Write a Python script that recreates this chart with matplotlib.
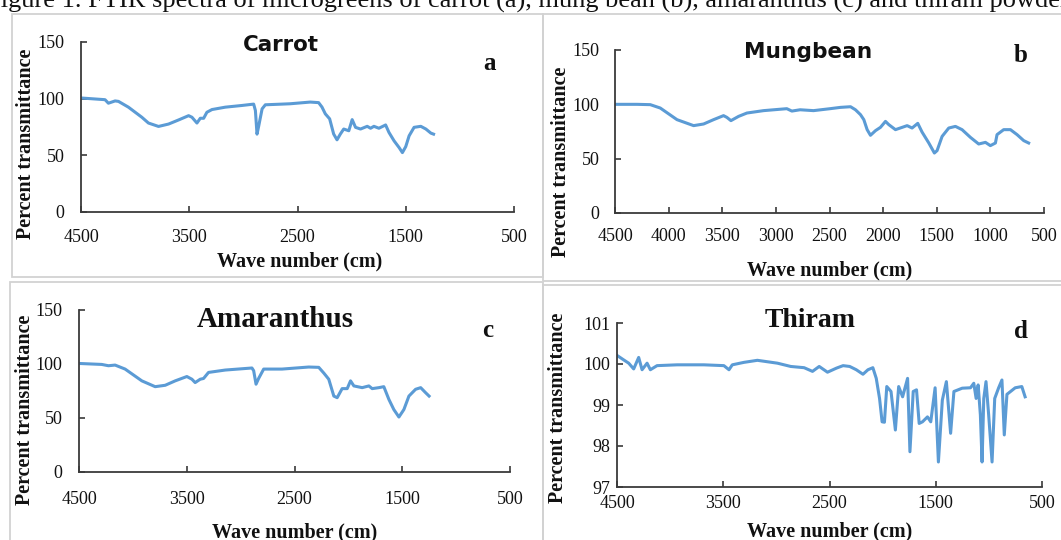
import matplotlib
matplotlib.use('Agg')
import matplotlib.pyplot as plt
import numpy as np
from matplotlib.patches import Rectangle

# ---------------- data ----------------
carrot_wn = [4500, 4278, 4247, 4185, 4154, 4062, 3938, 3877, 3784, 3691, 3599, 3506, 3475, 3429,
             3398, 3367, 3337, 3290, 3167, 3013, 2905, 2889, 2874, 2858, 2827, 2797, 2642, 2568,
             2382, 2305, 2274, 2243, 2203, 2166, 2135, 2104, 2073, 2026, 1995, 1964, 1918, 1856,
             1825, 1794, 1748, 1686, 1655, 1608, 1561, 1531, 1500, 1469, 1423, 1361, 1314, 1268, 1243]
carrot_t = [100.6, 99.1, 96.0, 98.0, 97.6, 92.5, 83.6, 78.5, 75.5, 77.6, 81.2, 85.0, 83.6, 78.5,
            82.7, 82.7, 88.0, 90.4, 92.5, 94.0, 95.2, 89.6, 68.7, 76.0, 91.0, 94.6, 95.2, 95.5,
            97.0, 96.5, 92.6, 86.6, 82.2, 68.8, 63.7, 68.8, 73.2, 71.7, 81.5, 74.7, 73.2, 75.6,
            73.9, 75.6, 73.9, 76.8, 70.2, 62.8, 56.8, 52.4, 57.7, 67.2, 74.7, 75.6, 73.2, 69.6, 68.7]

mung_wn = [4500, 4295, 4171, 4078, 3922, 3767, 3674, 3581, 3488, 3457, 3419, 3348, 3270, 3115,
           2898, 2851, 2774, 2649, 2494, 2398, 2304, 2258, 2211, 2180, 2149, 2118, 2071, 2025,
           1978, 1947, 1885, 1776, 1730, 1677, 1637, 1574, 1522, 1497, 1450, 1388, 1326, 1264,
           1186, 1109, 1046, 1000, 953, 938, 876, 813, 751, 689, 643]
mung_t = [100.0, 100.0, 99.7, 96.6, 85.9, 80.4, 81.9, 85.9, 89.6, 88.0, 85.0, 88.9, 92.0, 94.2,
          96.0, 93.8, 95.0, 94.2, 96.0, 97.2, 97.8, 95.0, 90.5, 85.9, 76.7, 71.5, 75.8, 78.8,
          84.3, 81.3, 76.7, 80.4, 78.2, 82.5, 74.5, 64.4, 55.2, 57.4, 70.5, 78.2, 79.7, 76.7,
          69.6, 63.5, 65.0, 62.0, 64.4, 72.1, 76.7, 76.7, 72.1, 66.6, 64.4]

amar_wn = [4500, 4289, 4227, 4165, 4072, 3917, 3793, 3700, 3607, 3499, 3452, 3422, 3375, 3344,
           3298, 3143, 2895, 2879, 2857, 2833, 2786, 2616, 2368, 2275, 2228, 2182, 2135, 2104,
           2058, 2011, 1980, 1949, 1872, 1810, 1779, 1717, 1671, 1624, 1578, 1531, 1485, 1438,
           1376, 1329, 1283, 1251]
amar_t = [100.5, 99.6, 98.4, 99.0, 95.3, 84.4, 79.0, 80.3, 84.4, 88.4, 85.9, 82.8, 85.9, 86.6,
          92.2, 94.4, 96.3, 93.8, 81.3, 86.6, 95.3, 95.3, 97.2, 96.9, 91.6, 85.9, 70.3, 68.8,
          77.2, 77.2, 84.4, 79.7, 78.1, 79.7, 77.2, 78.1, 79.0, 67.2, 57.8, 50.9, 57.8, 70.3,
          76.6, 78.1, 73.4, 70.3]

thiram_wn = [4500, 4437, 4390, 4343, 4296, 4264, 4217, 4186, 4123, 3934, 3682, 3494, 3446, 3415,
             3305, 3179, 2990, 2865, 2739, 2660, 2597, 2519, 2434, 2372, 2310, 2248, 2185, 2138,
             2092, 2060, 2029, 2005, 1983, 1961, 1921, 1880, 1849, 1812, 1765, 1743, 1712, 1681,
             1656, 1625, 1578, 1547, 1506, 1475, 1438, 1400, 1360, 1329, 1251, 1173, 1142, 1120,
             1101, 1080, 1064, 1048, 1027, 1002, 970, 945, 908, 877, 855, 830, 752, 690, 659]
thiram_t = [100.21, 100.10, 100.02, 99.88, 100.16, 99.86, 100.02, 99.86, 99.96, 99.98, 99.98,
            99.96, 99.86, 99.98, 100.04, 100.09, 100.02, 99.94, 99.91, 99.82, 99.94, 99.80,
            99.90, 99.96, 99.94, 99.86, 99.75, 99.86, 99.91, 99.65, 99.16, 98.59, 98.58, 99.45,
            99.33, 98.39, 99.45, 99.20, 99.65, 97.86, 99.33, 99.37, 98.55, 98.59, 98.71, 98.59,
            99.42, 97.61, 99.12, 99.57, 98.31, 99.33, 99.41, 99.42, 99.53, 99.16, 99.49, 98.76,
            97.61, 99.16, 99.57, 98.76, 97.61, 99.16, 99.42, 99.61, 98.27, 99.26, 99.42, 99.45, 99.20]

titles = ["Carrot", "Mungbean", "Amaranthus", "Thiram"]
letters = ["a", "b", "c", "d"]
xticks_1000 = [4500, 3500, 2500, 1500, 500]
xticks_500 = [4500, 4000, 3500, 3000, 2500, 2000, 1500, 1000, 500]
yticks_pct = [0, 50, 100, 150]
yticks_thiram = [97, 98, 99, 100, 101]
xlabel = "Wave number (cm)"
ylabel = "Percent transmittance"
caption = "Figure 1. FTIR spectra of microgreens of carrot (a), mung bean (b), amaranthus (c) and thiram powder"

# ---------------- layout ----------------
W, H = 1061, 540
fig = plt.figure(figsize=(W / 100, H / 100), dpi=100)
LINE = '#5B9BD5'
SERIF = 'Liberation Serif'
AXC = '#3a3a3a'
TXT = '#111111'


def fx(x):
    return x / W


def fy(y):
    return 1 - y / H


# panel boxes
for (l, t, r, b) in [(12, 14, 543, 277), (543, 14, 1070, 281), (10, 282, 543, 550), (543, 285, 1070, 550)]:
    fig.add_artist(Rectangle((fx(l), fy(b)), (r - l) / W, (b - t) / H, transform=fig.transFigure,
                             facecolor='none', edgecolor='#d2d2d2', lw=1.3))

panels = [
    dict(rect=(81, 42, 514, 212), wn=carrot_wn, t=carrot_t, ylim=(0, 150), yt=yticks_pct, xt=xticks_1000,
         title=(281, 51), tfont=dict(family='DejaVu Sans', size=15.4, weight='bold'),
         letter=(490, 70), xl=(300, 266), yl=(26, 144), xpad=12, ypad=12),
    dict(rect=(615, 50, 1044, 213), wn=mung_wn, t=mung_t, ylim=(0, 150), yt=yticks_pct, xt=xticks_500,
         title=(808, 58), tfont=dict(family='DejaVu Sans', size=15.6, weight='bold'),
         letter=(1021, 62), xl=(830, 275), yl=(561, 162), xpad=11, ypad=11),
    dict(rect=(79, 310, 510, 472), wn=amar_wn, t=amar_t, ylim=(0, 150), yt=yticks_pct, xt=xticks_1000,
         title=(275, 327), tfont=dict(family=SERIF, size=21, weight='bold'),
         letter=(488, 337), xl=(295, 537), yl=(25, 410), xpad=14, ypad=12),
    dict(rect=(617, 323, 1042, 487), wn=thiram_wn, t=thiram_t, ylim=(97, 101), yt=yticks_thiram, xt=xticks_1000,
         title=(810, 327), tfont=dict(family=SERIF, size=20, weight='bold'),
         letter=(1021, 338), xl=(830, 536), yl=(558, 408), xpad=6, ypad=5),
]

for i, p in enumerate(panels):
    l, t, r, b = p['rect']
    ax = fig.add_axes([fx(l), fy(b), (r - l) / W, (b - t) / H])
    ax.plot(p['wn'], p['t'], color=LINE, lw=2.2, solid_joinstyle='round')
    ax.set_xlim(4500, 500)
    ax.set_ylim(*p['ylim'])
    ax.set_xticks(p['xt'])
    ax.set_xticklabels([str(v) for v in p['xt']], fontfamily=SERIF, fontsize=13, color=TXT)
    ax.set_yticks(p['yt'])
    ax.set_yticklabels([str(v) for v in p['yt']], fontfamily=SERIF, fontsize=13, color=TXT)
    ax.patch.set_alpha(0)
    for s in ['top', 'right']:
        ax.spines[s].set_visible(False)
    for s in ['left', 'bottom']:
        ax.spines[s].set_color(AXC)
        ax.spines[s].set_linewidth(1.3)
    ax.tick_params(axis='both', direction='in', length=4.5, width=1.2, color=AXC)
    ax.tick_params(axis='x', pad=p['xpad'])
    ax.tick_params(axis='y', pad=p['ypad'])

    tx, ty = p['title']
    fig.text(fx(tx), fy(ty), titles[i], ha='center', va='baseline', color=TXT, **p['tfont'])
    lx, ly = p['letter']
    fig.text(fx(lx), fy(ly), letters[i], ha='center', va='baseline', family=SERIF,
             weight='bold', size=18, color=TXT)
    xx, xy = p['xl']
    fig.text(fx(xx), fy(xy), xlabel, ha='center', va='baseline', family=SERIF,
             weight='bold', size=14.5, color=TXT)
    yx, yy = p['yl']
    fig.text(fx(yx), fy(yy), ylabel, ha='center', va='center', rotation=90, family=SERIF,
             weight='bold', size=14.5, color=TXT)

fig.text(fx(-14), fy(8), caption, ha='left', va='baseline', family=SERIF, size=19, color=TXT)

fig.savefig('out.png', dpi=100)
